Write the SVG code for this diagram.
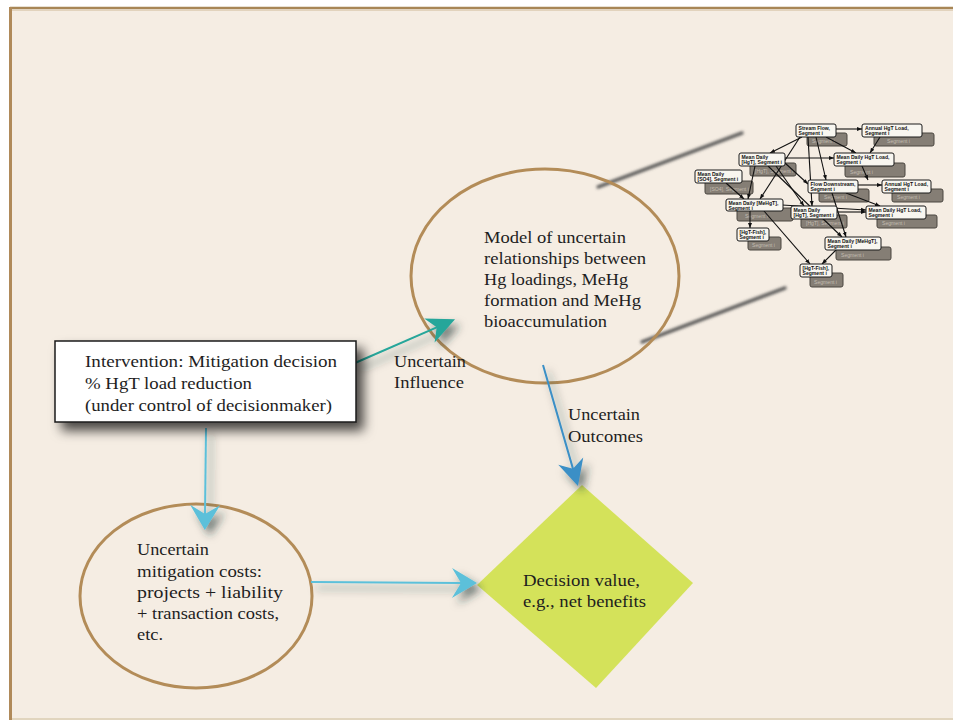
<svg xmlns="http://www.w3.org/2000/svg" width="953" height="720" viewBox="0 0 953 720">
<defs>
<style>
.t{font-family:"Liberation Serif","Times New Roman",serif;font-size:16.5px;fill:#1e1e1e}
.el{fill:none;stroke:#b38c58;stroke-width:3}
.nb{fill:#f8f6f0;stroke:#1a1a1a;stroke-width:1}
.ns{fill:#857e75;stroke:#4a4640;stroke-width:1}
.nt{font-family:"Liberation Sans",Arial,sans-serif;font-size:5.1px;font-weight:bold;fill:#111}
.st{font-family:"Liberation Sans",Arial,sans-serif;font-size:5.1px;fill:#c4bdb1}
.ne{fill:none;stroke:#111;stroke-width:1.1}
</style>
<filter id="boxsh" x="-20%" y="-30%" width="150%" height="180%">
<feDropShadow dx="7" dy="8" stdDeviation="6" flood-color="#000" flood-opacity="0.7"/>
</filter>
<filter id="arrsh" x="-50%" y="-50%" width="200%" height="200%">
<feDropShadow dx="5" dy="6" stdDeviation="4" flood-color="#1e3030" flood-opacity="0.6"/>
</filter>
<filter id="blur" x="-10%" y="-50%" width="120%" height="200%">
<feGaussianBlur stdDeviation="1.4"/>
</filter>
<marker id="hTeal" markerUnits="userSpaceOnUse" markerWidth="40" markerHeight="40" viewBox="-15 -20 35 40" refX="0" refY="0" orient="auto">
<path d="M15,0 L-13,-13 L-5,0 L-13,13 Z" fill="#26a69a"/>
</marker>
<marker id="hLight" markerUnits="userSpaceOnUse" markerWidth="40" markerHeight="40" viewBox="-15 -20 35 40" refX="0" refY="0" orient="auto">
<path d="M15,0 L-10,-15 L-1,0 L-10,15 Z" fill="#5bc0da"/>
</marker>
<marker id="hBlue" markerUnits="userSpaceOnUse" markerWidth="40" markerHeight="40" viewBox="-15 -20 35 40" refX="0" refY="0" orient="auto">
<path d="M15,0 L-11,-13 L-3,0 L-11,13 Z" fill="#3a8fc6"/>
</marker>
<marker id="hs" markerUnits="userSpaceOnUse" markerWidth="6" markerHeight="6" viewBox="0 -3 6 6" refX="5" refY="0" orient="auto">
<path d="M0,-2 L5,0 L0,2 Z" fill="#111"/>
</marker>
</defs>

<rect x="0" y="0" width="953" height="720" fill="#ffffff"/>
<rect x="10" y="8" width="943" height="712" fill="#f5ede3"/>
<line x1="10" y1="8" x2="953" y2="8" stroke="#a88656" stroke-width="2.5"/>
<line x1="12" y1="10.5" x2="953" y2="10.5" stroke="#e2d3bd" stroke-width="1"/>
<line x1="10.5" y1="7" x2="10.5" y2="720" stroke="#b08a5a" stroke-width="3"/>
<line x1="12" y1="719" x2="953" y2="719" stroke="#dacdb2" stroke-width="1.5"/>

<g id="zoom-lines" filter="url(#blur)" stroke="#4e4e4e" stroke-width="3.2" stroke-linecap="round">
<line x1="598" y1="187" x2="742" y2="133"/>
<line x1="642" y1="342" x2="785" y2="288"/>
</g>

<g id="model">
<ellipse class="el" cx="545" cy="276" rx="134" ry="107"/>
<text class="t" x="484" y="243" textLength="142" lengthAdjust="spacingAndGlyphs">Model of uncertain</text>
<text class="t" x="484" y="264" textLength="162" lengthAdjust="spacingAndGlyphs">relationships between</text>
<text class="t" x="484" y="285" textLength="144" lengthAdjust="spacingAndGlyphs">Hg loadings, MeHg</text>
<text class="t" x="484" y="306" textLength="157" lengthAdjust="spacingAndGlyphs">formation and MeHg</text>
<text class="t" x="484" y="327" textLength="123" lengthAdjust="spacingAndGlyphs">bioaccumulation</text>
</g>

<g id="costs">
<ellipse class="el" cx="196" cy="596" rx="116" ry="92"/>
<text class="t" x="137" y="555" textLength="72" lengthAdjust="spacingAndGlyphs">Uncertain</text>
<text class="t" x="137" y="577" textLength="125" lengthAdjust="spacingAndGlyphs">mitigation costs:</text>
<text class="t" x="137" y="598" textLength="146" lengthAdjust="spacingAndGlyphs">projects + liability</text>
<text class="t" x="137" y="619" textLength="142" lengthAdjust="spacingAndGlyphs">+ transaction costs,</text>
<text class="t" x="137" y="640" textLength="26" lengthAdjust="spacingAndGlyphs">etc.</text>
</g>

<g id="decision">
<polygon points="582,485 693,583 596,688 477,585" fill="#d4e25a"/>
<text class="t" x="523" y="586" textLength="117" lengthAdjust="spacingAndGlyphs">Decision value,</text>
<text class="t" x="523" y="607" textLength="123" lengthAdjust="spacingAndGlyphs">e.g., net benefits</text>
</g>

<g id="connectors" fill="none" stroke-width="2">
<g filter="url(#arrsh)">
<line x1="355" y1="363" x2="441.3" y2="325.3" stroke="#26a69a" marker-end="url(#hTeal)"/>
<line x1="206" y1="428" x2="205" y2="515" stroke="#5bc0da" marker-end="url(#hLight)"/>
<line x1="311" y1="582" x2="462" y2="583" stroke="#5bc0da" marker-end="url(#hLight)"/>
<line x1="543" y1="365" x2="573.8" y2="471.6" stroke="#3a8fc6" marker-end="url(#hBlue)"/>
</g>
<text class="t" x="394" y="367" textLength="72" lengthAdjust="spacingAndGlyphs" stroke="none">Uncertain</text>
<text class="t" x="394" y="388" textLength="70" lengthAdjust="spacingAndGlyphs" stroke="none">Influence</text>
<text class="t" x="568" y="420" textLength="72" lengthAdjust="spacingAndGlyphs" stroke="none">Uncertain</text>
<text class="t" x="568" y="442" textLength="75" lengthAdjust="spacingAndGlyphs" stroke="none">Outcomes</text>
</g>

<g id="intervention">
<rect x="55" y="341" width="301" height="81" fill="#ffffff" stroke="#1a1a1a" stroke-width="1.5" filter="url(#boxsh)"/>
<text class="t" x="85" y="367" textLength="252" lengthAdjust="spacingAndGlyphs">Intervention:  Mitigation decision</text>
<text class="t" x="85" y="389" textLength="167" lengthAdjust="spacingAndGlyphs">% HgT load reduction</text>
<text class="t" x="85" y="411" textLength="247" lengthAdjust="spacingAndGlyphs">(under control of decisionmaker)</text>
</g>

<g id="net-shadows">
<rect class="ns" x="807" y="133" width="40" height="13" rx="2"/>
<rect class="ns" x="874" y="133" width="60" height="13" rx="2"/>
<rect class="ns" x="750" y="163" width="46" height="13" rx="2"/>
<rect class="ns" x="845" y="163" width="60" height="14" rx="2"/>
<rect class="ns" x="705" y="181" width="48" height="13" rx="2"/>
<rect class="ns" x="819" y="189" width="50" height="13" rx="2"/>
<rect class="ns" x="892" y="189" width="51" height="13" rx="2"/>
<rect class="ns" x="737" y="208" width="56" height="13" rx="2"/>
<rect class="ns" x="801" y="215" width="46" height="13" rx="2"/>
<rect class="ns" x="877" y="215" width="60" height="13" rx="2"/>
<rect class="ns" x="748" y="237" width="33" height="13" rx="2"/>
<rect class="ns" x="836" y="247" width="55" height="13" rx="2"/>
<rect class="ns" x="810" y="273" width="33" height="14" rx="2"/>
<text class="st" x="812" y="143">Segment i</text>
<text class="st" x="887" y="143">Segment i</text>
<text class="st" x="755" y="173">[HgT], Segment i</text>
<text class="st" x="850" y="174">Segment i</text>
<text class="st" x="710" y="191">[SO4], Segment i</text>
<text class="st" x="824" y="199">Segment i</text>
<text class="st" x="897" y="199">Segment i</text>
<text class="st" x="745" y="218">Segment i</text>
<text class="st" x="806" y="225">[HgT], Segment i</text>
<text class="st" x="882" y="225">Segment i</text>
<text class="st" x="752" y="247">Segment i</text>
<text class="st" x="841" y="257">Segment i</text>
<text class="st" x="814" y="284">Segment i</text>
</g>

<g id="net-edges">
<line class="ne" x1="836" y1="129" x2="862" y2="129" marker-end="url(#hs)"/>
<line class="ne" x1="826" y1="137" x2="856" y2="153" marker-end="url(#hs)"/>
<line class="ne" x1="802" y1="137" x2="770" y2="153" marker-end="url(#hs)"/>
<line class="ne" x1="816" y1="137" x2="826" y2="180" marker-end="url(#hs)"/>
<line class="ne" x1="808" y1="137" x2="812" y2="206" marker-end="url(#hs)"/>
<line class="ne" x1="800" y1="137" x2="760" y2="199" marker-end="url(#hs)"/>
<line class="ne" x1="755" y1="166" x2="748" y2="199" marker-end="url(#hs)"/>
<line class="ne" x1="768" y1="166" x2="842" y2="237" marker-end="url(#hs)"/>
<line class="ne" x1="785" y1="158" x2="834" y2="158" marker-end="url(#hs)"/>
<line class="ne" x1="785" y1="163" x2="808" y2="184" marker-end="url(#hs)"/>
<line class="ne" x1="776" y1="166" x2="804" y2="206" marker-end="url(#hs)"/>
<line class="ne" x1="726" y1="183" x2="744" y2="199" marker-end="url(#hs)"/>
<line class="ne" x1="750" y1="211" x2="750" y2="228" marker-end="url(#hs)"/>
<line class="ne" x1="764" y1="211" x2="810" y2="264" stroke-width="1.6" marker-end="url(#hs)"/>
<line class="ne" x1="782" y1="205" x2="866" y2="210" marker-end="url(#hs)"/>
<line class="ne" x1="858" y1="185" x2="882" y2="185" marker-end="url(#hs)"/>
<line class="ne" x1="846" y1="193" x2="880" y2="206" marker-end="url(#hs)"/>
<line class="ne" x1="836" y1="212" x2="866" y2="212" marker-end="url(#hs)"/>
<line class="ne" x1="832" y1="193" x2="846" y2="237" marker-end="url(#hs)"/>
<line class="ne" x1="836" y1="250" x2="822" y2="264" marker-end="url(#hs)"/>
<line class="ne" x1="862" y1="166" x2="868" y2="180" marker-end="url(#hs)"/>
<line class="ne" x1="880" y1="137" x2="870" y2="153" marker-end="url(#hs)"/>
</g>

<g id="n-streamflow"><rect class="nb" x="796" y="124" width="40" height="13" rx="2"/><text class="nt" x="798.5" y="129.5">Stream Flow,</text><text class="nt" x="798.5" y="135.2">Segment i</text></g>
<g id="n-annual1"><rect class="nb" x="862" y="124" width="60" height="13" rx="2"/><text class="nt" x="865" y="129.5">Annual HgT Load,</text><text class="nt" x="865" y="135.2">Segment i</text></g>
<g id="n-hgt1"><rect class="nb" x="739" y="153" width="46" height="13" rx="2"/><text class="nt" x="741.5" y="158.5">Mean Daily</text><text class="nt" x="741.5" y="164.2">[HgT], Segment i</text></g>
<g id="n-load1"><rect class="nb" x="834" y="153" width="60" height="13" rx="2"/><text class="nt" x="836.5" y="158.5">Mean Daily HgT Load,</text><text class="nt" x="836.5" y="164.2">Segment i</text></g>
<g id="n-so4"><rect class="nb" x="695" y="170" width="47" height="13" rx="2"/><text class="nt" x="697.5" y="175.5">Mean Daily</text><text class="nt" x="697.5" y="181.2">[SO4], Segment i</text></g>
<g id="n-flowdown"><rect class="nb" x="808" y="180" width="50" height="13" rx="2"/><text class="nt" x="810.5" y="185.5">Flow Downstream,</text><text class="nt" x="810.5" y="191.2">Segment i</text></g>
<g id="n-annual2"><rect class="nb" x="882" y="180" width="49" height="13" rx="2"/><text class="nt" x="884.5" y="185.5">Annual HgT Load,</text><text class="nt" x="884.5" y="191.2">Segment i</text></g>
<g id="n-mehgt1"><rect class="nb" x="726" y="199" width="57" height="12" rx="2"/><text class="nt" x="728.5" y="204.5">Mean Daily [MeHgT],</text><text class="nt" x="728.5" y="209.7">Segment i</text></g>
<g id="n-hgt2"><rect class="nb" x="791" y="206" width="46" height="13" rx="2"/><text class="nt" x="793.5" y="211.5">Mean Daily</text><text class="nt" x="793.5" y="217.2">[HgT], Segment i</text></g>
<g id="n-load2"><rect class="nb" x="866" y="206" width="60" height="13" rx="2"/><text class="nt" x="868.5" y="211.5">Mean Daily HgT Load,</text><text class="nt" x="868.5" y="217.2">Segment i</text></g>
<g id="n-fish1"><rect class="nb" x="737" y="228" width="32" height="13" rx="2"/><text class="nt" x="739.5" y="233.5">[HgT-Fish],</text><text class="nt" x="739.5" y="239.2">Segment i</text></g>
<g id="n-mehgt2"><rect class="nb" x="825" y="237" width="56" height="13" rx="2"/><text class="nt" x="827.5" y="242.5">Mean Daily [MeHgT],</text><text class="nt" x="827.5" y="248.2">Segment i</text></g>
<g id="n-fish2"><rect class="nb" x="800" y="264" width="32" height="13" rx="2"/><text class="nt" x="802.5" y="269.5">[HgT-Fish],</text><text class="nt" x="802.5" y="275.2">Segment i</text></g>
</svg>
